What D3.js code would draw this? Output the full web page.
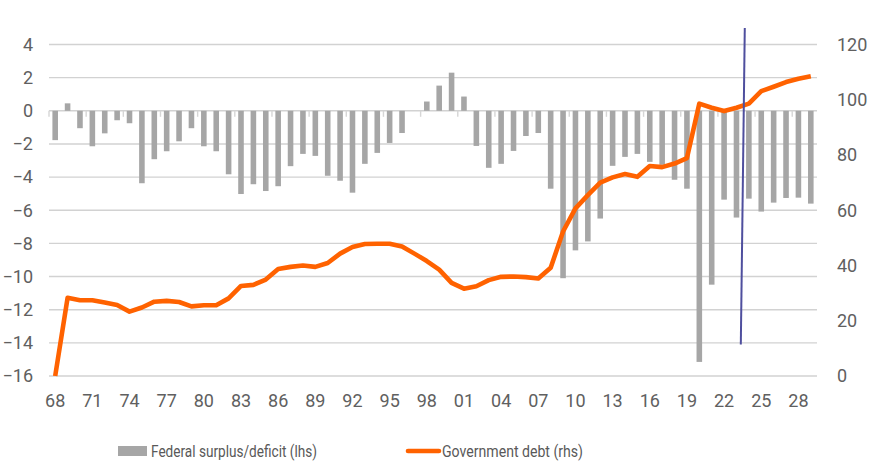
<!DOCTYPE html>
<html>
<head>
<meta charset="utf-8">
<script src="https://cdn.jsdelivr.net/npm/d3@7"></script>
<style>
  html, body { margin: 0; padding: 0; background: #ffffff; }
  svg { display: block; }
  text { font-family: Roboto, "Noto Sans", sans-serif; }
</style>
</head>
<body>
<svg id="chart" width="870" height="470"></svg>
<script>
// ---------------- data ----------------
const years = [1968,1969,1970,1971,1972,1973,1974,1975,1976,1977,
  1978,1979,1980,1981,1982,1983,1984,1985,1986,1987,
  1988,1989,1990,1991,1992,1993,1994,1995,1996,1997,
  1998,1999,2000,2001,2002,2003,2004,2005,2006,2007,
  2008,2009,2010,2011,2012,2013,2014,2015,2016,2017,
  2018,2019,2020,2021,2022,2023,2024,2025,2026,2027,2028,2029];

// Federal surplus/deficit, % of GDP (lhs)
const deficit = [-1.77,0.45,-1.05,-2.14,-1.36,-0.57,-0.75,-4.37,-2.92,-2.44,
  -1.84,-1.05,-2.14,-2.44,-3.83,-5.02,-4.43,-4.84,-4.55,-3.34,
  -2.6,-2.72,-3.92,-4.22,-4.94,-3.2,-2.54,-1.94,-1.34,0,
  0.56,1.52,2.3,0.86,-2.12,-3.44,-3.2,-2.42,-1.52,-1.34,
  -4.7,-10.1,-8.42,-7.88,-6.5,-3.32,-2.78,-2.6,-3.08,-3.26,
  -4.16,-4.7,-15.15,-10.49,-5.36,-6.44,-5.3,-6.08,-5.54,-5.26,-5.24,-5.6];

// Government debt, % of GDP (rhs)
const debt = [0,28.3,27.4,27.4,26.6,25.7,23.3,24.8,26.9,27.2,
  26.8,25.2,25.6,25.6,28.1,32.6,33.0,34.9,38.7,39.5,
  40.0,39.5,40.9,44.3,46.7,47.8,47.9,47.9,46.9,44.3,
  41.6,38.5,33.7,31.6,32.5,34.7,35.9,36.0,35.8,35.3,
  39.2,52.3,60.7,65.5,70.0,71.9,73.1,72.1,76.0,75.6,
  76.9,78.9,98.6,97.1,95.9,97.1,98.6,103.1,104.7,106.4,107.6,108.5];

const leftTicks = [4,2,0,-2,-4,-6,-8,-10,-12,-14,-16];
const rightTicks = [0,20,40,60,80,100,120];
const xTickYears = [1968,1971,1974,1977,1980,1983,1986,1989,1992,1995,1998,
  2001,2004,2007,2010,2013,2016,2019,2022,2025,2028];

// forecast divider (position in years, value in lhs units)
const markerYears = [2023.67, 2023.35];
const markerValues = [5, -14.1];

const legendLabels = ["Federal surplus/deficit (lhs)", "Government debt (rhs)"];

// ---------------- layout ----------------
const W = 870, H = 470;
const plot = { left: 49, right: 817, top: 44.5, bottom: 376 };
const colors = { bar: "#a6a6a6", line: "#ff6200", grid: "#d2d2d2", text: "#606060", marker: "#4f4f9e", tick: "#d6d6d6" };

const svg = d3.select("#chart");

const x = d3.scaleBand().domain(years).range([plot.left, plot.right])
  .paddingInner(0.55).paddingOuter(0.275);
const step = x.step();
const xc = d => x(d) + x.bandwidth() / 2;
const xYear = d3.scaleLinear()
  .domain([years[0], years[years.length - 1]])
  .range([xc(years[0]), xc(years[years.length - 1])]);

const yL = d3.scaleLinear().domain([-16, 4]).range([plot.bottom, plot.top]);
const yR = d3.scaleLinear().domain([0, 120]).range([plot.bottom, plot.top]);

// gridlines
svg.append("g").selectAll("line").data(leftTicks).join("line")
  .attr("x1", plot.left).attr("x2", plot.right)
  .attr("y1", d => yL(d)).attr("y2", d => yL(d))
  .attr("stroke", colors.grid).attr("stroke-width", 1.4);

// bars
svg.append("g").selectAll("rect").data(years).join("rect")
  .attr("x", d => x(d))
  .attr("width", x.bandwidth())
  .attr("y", (d, i) => yL(Math.max(0, deficit[i])))
  .attr("height", (d, i) => Math.abs(yL(deficit[i]) - yL(0)))
  .attr("fill", colors.bar);

// small category ticks on the zero line every 3 categories
const tickIdx = d3.range(0, years.length + 1, 3);
svg.append("g").selectAll("line").data(tickIdx).join("line")
  .attr("x1", i => plot.left + i * step).attr("x2", i => plot.left + i * step)
  .attr("y1", yL(0)).attr("y2", yL(0) + 6)
  .attr("stroke", colors.tick).attr("stroke-width", 1.4);

// debt line
const line = d3.line().x((d, i) => xc(years[i])).y(d => yR(d)).curve(d3.curveLinear);
svg.append("path").datum(debt)
  .attr("d", line)
  .attr("fill", "none")
  .attr("stroke", colors.line)
  .attr("stroke-width", 4.6)
  .attr("stroke-linejoin", "round");

// forecast divider
svg.append("line")
  .attr("x1", xYear(markerYears[0])).attr("y1", yL(markerValues[0]))
  .attr("x2", xYear(markerYears[1])).attr("y2", yL(markerValues[1]))
  .attr("stroke", colors.marker).attr("stroke-width", 2);

// axes
function styleAxis(g) {
  g.select(".domain").remove();
  g.selectAll(".tick line").remove();
  g.selectAll("text").attr("fill", colors.text).style("font-size", "18px")
    .style("font-family", "Roboto, 'Noto Sans', sans-serif");
}
svg.append("g").attr("transform", `translate(${plot.left},0)`)
  .call(d3.axisLeft(yL).tickValues(leftTicks).tickSize(0).tickPadding(16).tickFormat(d3.format("d")))
  .call(styleAxis);
svg.append("g").attr("transform", `translate(${plot.right},0)`)
  .call(d3.axisRight(yR).tickValues(rightTicks).tickSize(0).tickPadding(20))
  .call(styleAxis);
svg.append("g").attr("transform", `translate(0,${plot.bottom})`)
  .call(d3.axisBottom(x).tickValues(xTickYears).tickSize(0).tickPadding(18)
    .tickFormat(d => String(d).slice(2)))
  .call(styleAxis);

// legend
const lg = svg.append("g");
lg.append("rect").attr("x", 118).attr("y", 446).attr("width", 29).attr("height", 10).attr("fill", colors.bar);
lg.append("text").attr("x", 151).attr("y", 457).text(legendLabels[0])
  .attr("fill", "#595959").style("font-size", "16px")
  .attr("textLength", 166).attr("lengthAdjust", "spacingAndGlyphs");
lg.append("line").attr("x1", 408).attr("x2", 439).attr("y1", 451).attr("y2", 451)
  .attr("stroke", colors.line).attr("stroke-width", 4.6).attr("stroke-linecap", "round");
lg.append("text").attr("x", 442).attr("y", 457).text(legendLabels[1])
  .attr("fill", "#595959").style("font-size", "16px")
  .attr("textLength", 141).attr("lengthAdjust", "spacingAndGlyphs");
</script>
</body>
</html>
